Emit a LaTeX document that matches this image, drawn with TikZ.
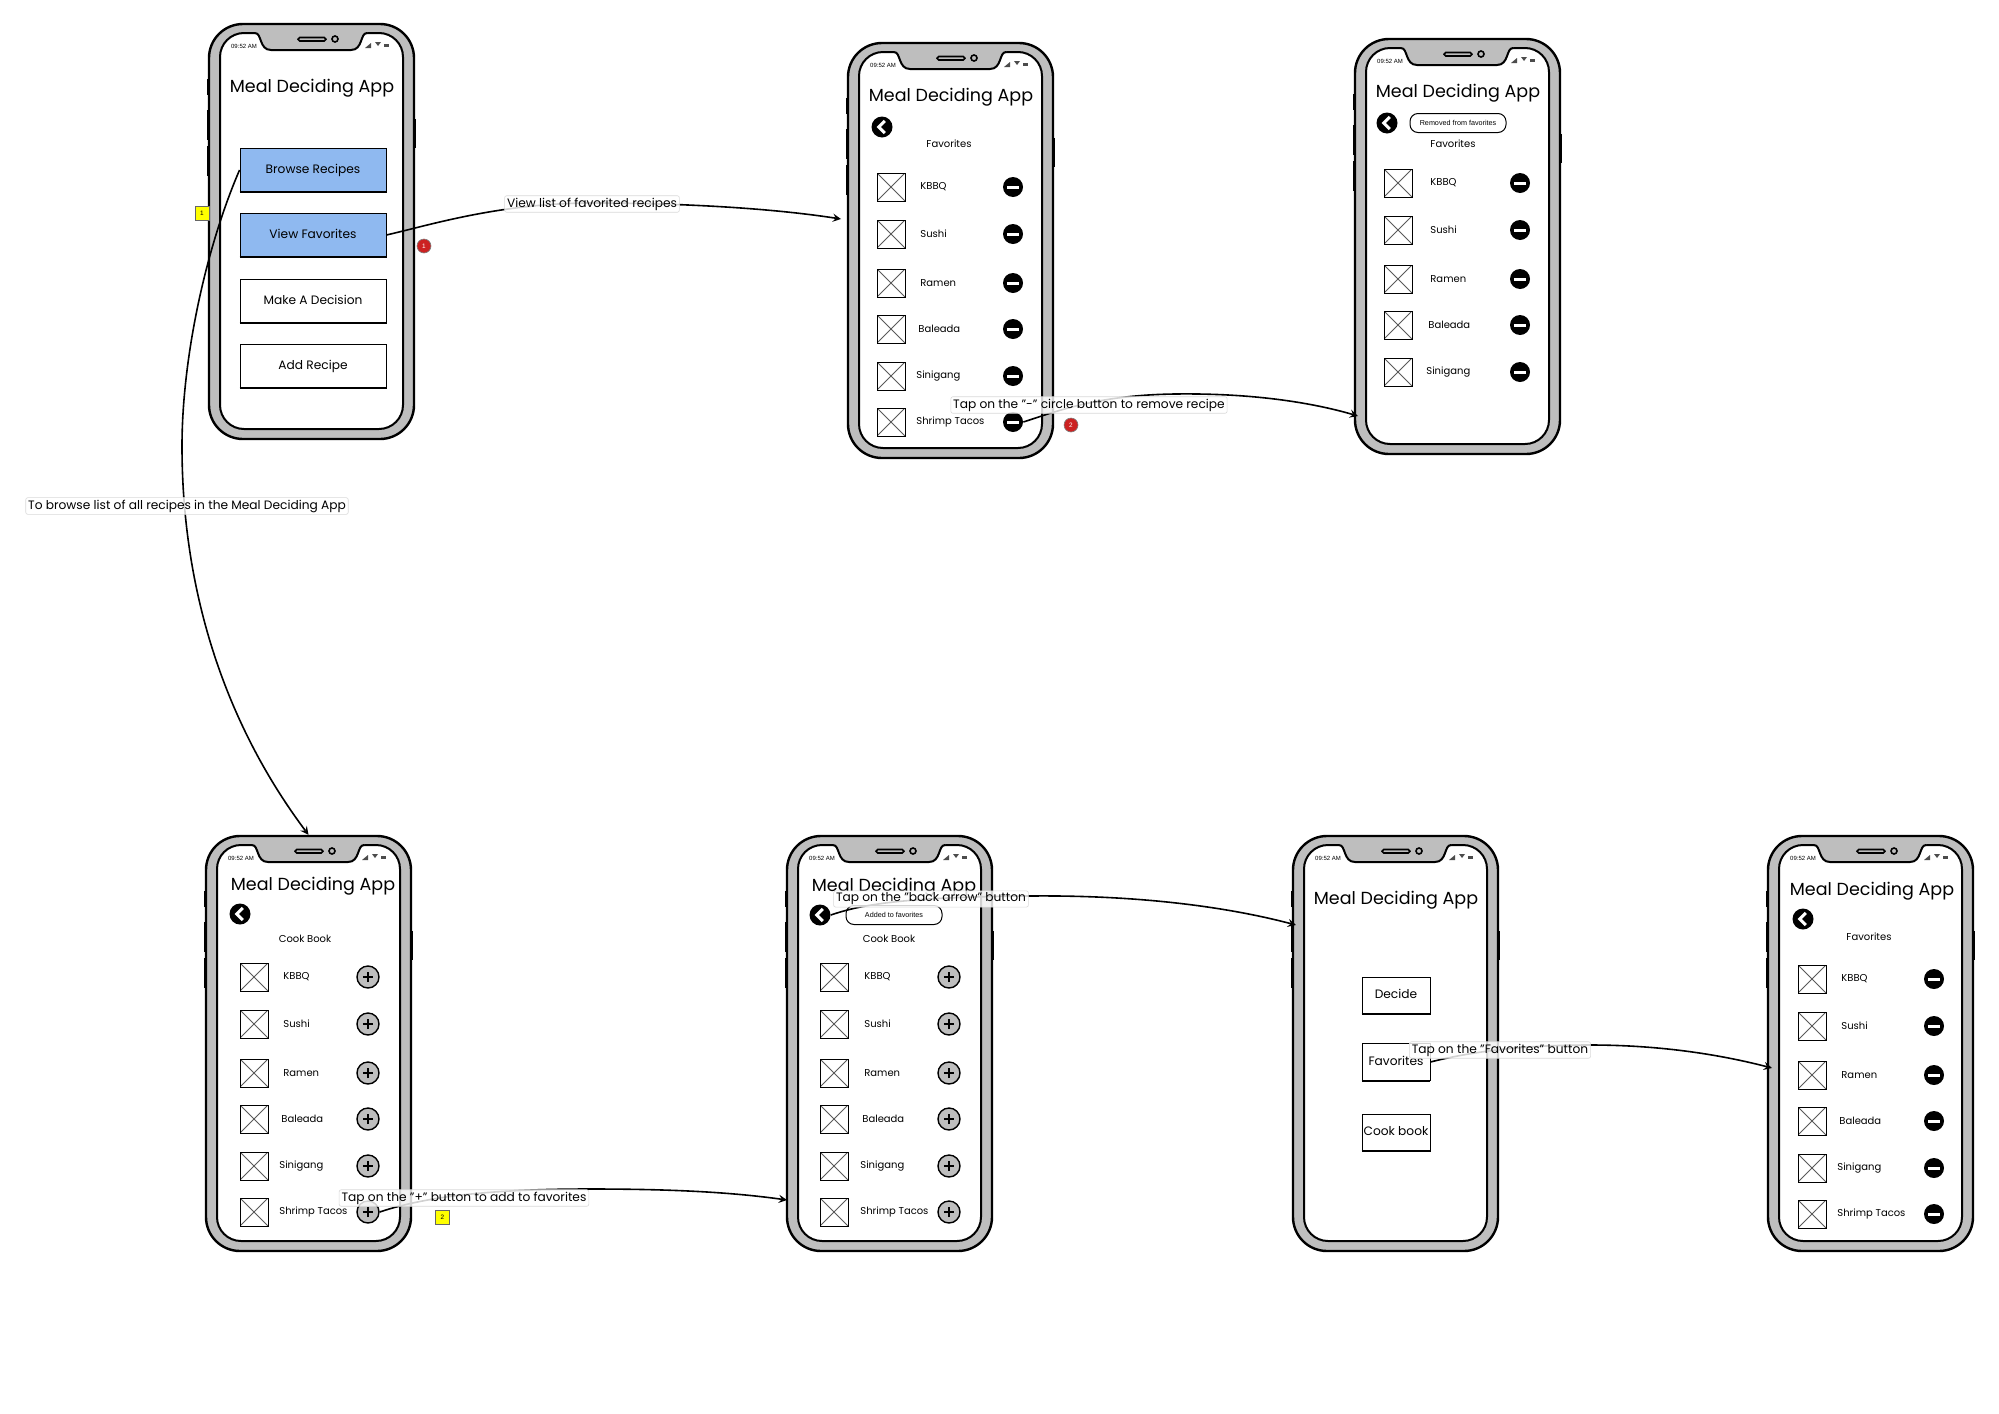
\documentclass[tikz,border=0pt]{standalone}
\usepackage{fontspec}
\setmainfont{Poppins}
\newfontfamily\smallfont{Liberation Sans}
\definecolor{shellgray}{HTML}{BEBEBE}
\definecolor{btnblue}{HTML}{8FB9F0}
\definecolor{markred}{HTML}{CC2222}
\definecolor{markyellow}{HTML}{FFFF00}
\newcommand{\fs}[1]{\fontsize{#1}{#1}\selectfont}
\tikzset{
  phoneshell/.style={draw,line width=1.2pt,fill=shellgray,rounded corners=17pt,minimum width=102.5pt,minimum height=207.5pt,inner sep=0},
  phonescreen/.style={draw,line width=1pt,fill=white,rounded corners=12pt,minimum width=91.5pt,minimum height=198pt,inner sep=0},
  sidekey/.style={line width=1.2pt},
  apptitle/.style={inner sep=0,font=\fs{8.75}},
  heading/.style={inner sep=0,font=\fs{5}},
  itemtext/.style={inner sep=0,anchor=west,font=\fs{5}},
  menubtn/.style={draw,line width=.45pt,minimum width=73pt,minimum height=22pt,inner sep=0,font=\fs{6.1},text height=1.1ex,text depth=.55ex,
    append after command={(\tikzlastnode.south west) edge[line width=1pt] (\tikzlastnode.south east)}},
  smallbtn/.style={menubtn,minimum width=34pt,minimum height=18.5pt},
  imgbox/.style={draw,line width=.5pt,minimum size=14pt,inner sep=0,path picture={
    \draw[black!65,line width=.4pt] (path picture bounding box.north west) -- (path picture bounding box.south east)
      (path picture bounding box.north east) -- (path picture bounding box.south west);}},
  minusbtn/.style={circle,fill=black,minimum size=10pt,inner sep=0,path picture={
    \draw[white,line width=1.5pt] ([xshift=-3pt]path picture bounding box.center) -- ([xshift=3pt]path picture bounding box.center);}},
  plusbtn/.style={circle,draw,line width=.7pt,fill=shellgray,minimum size=11pt,inner sep=0,path picture={
    \draw[line width=1.3pt] ([xshift=-2.6pt]path picture bounding box.center) -- ([xshift=2.6pt]path picture bounding box.center)
      ([yshift=-2.6pt]path picture bounding box.center) -- ([yshift=2.6pt]path picture bounding box.center);}},
  backbtn/.style={circle,fill=black,minimum size=10.5pt,inner sep=0,path picture={
    \draw[white,line width=1.5pt] ([xshift=1.4pt,yshift=3pt]path picture bounding box.center) -- ([xshift=-1.6pt]path picture bounding box.center)
      -- ([xshift=1.4pt,yshift=-3pt]path picture bounding box.center);}},
  toast/.style={draw,line width=.5pt,fill=white,rounded corners=4pt,minimum width=48pt,minimum height=9.5pt,inner sep=0,font=\smallfont\fs{3.6}},
  tag/.style={draw=black!15,line width=.3pt,fill=white,fill opacity=.82,text opacity=1,rounded corners=1pt,inner xsep=1.2pt,inner ysep=1pt,font=\fs{6.1}},
  conn/.style={draw,line width=.8pt,->,>=stealth},
  yellowmark/.style={draw=black!60,line width=.3pt,fill=markyellow,minimum size=7pt,inner sep=0,font=\smallfont\fs{3.2}},
  redmark/.style={circle,draw=black!50,line width=.3pt,fill=markred,text=white,minimum size=7pt,inner sep=0,font=\smallfont\fs{3.2}}
}
% outer case, notch and status bar of one phone
\newcommand{\phonebody}[1]{
  \foreach \ya/\yb in {55/71,86/116,122/152} \draw[sidekey] (-1,\ya) -- (-1,\yb);
  \draw[sidekey] (206,95) -- (206,124);
  \node[phoneshell] (#1) at (102.5,207.5) {};
  \node[phonescreen] (#1-screen) at (102.5,207) {};
  \fill[shellgray] (46,7) -- (158,7) -- (158,9) .. controls (151,9) and (154,26) .. (142,26) -- (62,26) .. controls (50,26) and (53,9) .. (46,9) -- cycle;
  \draw[line width=1pt] (46,9) .. controls (53,9) and (50,26) .. (62,26) -- (142,26) .. controls (154,26) and (151,9) .. (158,9);
  \draw[line width=.8pt,rounded corners=.85pt] (89,13.5) rectangle (117,17);
  \draw[line width=.8pt] (126,15) circle (3);
  \node[inner sep=0,font=\smallfont\fs{3}] (#1-time) at (35,22) {09:52 AM};
  \fill[black!70] (156,24) -- (162,24) -- (162,19) -- cycle;
  \fill[black!70] (166,18) -- (172,18) -- (169,22) -- cycle;
  \fill[black!70] (175,20) rectangle (180,22.5);
}
% list of recipes: prefix, image x, button x, label shift, row shift, button style, rows
\newcommand{\recipes}[7]{
  \foreach \rownum/\rowy/\labx/\item in {1/144/72/KBBQ,2/191/72/Sushi,3/240/72/Ramen,4/286/70/Baleada,5/333/68/Sinigang,6/379/68/Shrimp Tacos}{
    \ifnum\rownum>#7\relax\else
      \node[imgbox] (#1-img\rownum) at (#2,{\rowy+#5}) {};
      \node[itemtext] (#1-txt\rownum) at ({\labx+#4},{\rowy+#5}) {\item};
      \node[#6] (#1-btn\rownum) at (#3,{\rowy+#5}) {};
    \fi
  }
}
\begin{document}
\begin{tikzpicture}[x=.5pt,y=-.5pt]
\useasboundingbox (0,0) rectangle (1999,1414);

% main menu
\begin{scope}[shift={(209,24)}]
\phonebody{menu}
\node[apptitle] (menu-title) at (103,64) {Meal Deciding App};
\node[menubtn,fill=btnblue] (browse) at (104,146) {Browse Recipes};
\node[menubtn,fill=btnblue] (viewfav) at (104,211) {View Favorites};
\node[menubtn] (decision) at (104,277) {Make A Decision};
\node[menubtn] (addrecipe) at (104,342) {Add Recipe};
\end{scope}

% favorites
\begin{scope}[shift={(848,43)}]
\phonebody{fav}
\node[apptitle] (fav-title) at (103,54) {Meal Deciding App};
\node[backbtn] (fav-back) at (34,84) {};
\node[heading] (fav-head) at (101,101) {Favorites};
\recipes{fav}{43}{165}{0}{0}{minusbtn}{6}
\end{scope}

% favorites after removing
\begin{scope}[shift={(1355,39)}]
\phonebody{rem}
\node[apptitle] (rem-title) at (103,54) {Meal Deciding App};
\node[backbtn] (rem-back) at (32,84) {};
\node[toast] (rem-toast) at (103,84) {Removed from favorites};
\node[heading] (rem-head) at (98,105) {Favorites};
\recipes{rem}{43}{165}{3}{0}{minusbtn}{5}
\end{scope}

% cook book
\begin{scope}[shift={(206,836)}]
\phonebody{book}
\node[apptitle] (book-title) at (107,50) {Meal Deciding App};
\node[backbtn] (book-back) at (34,78) {};
\node[heading] (book-head) at (99,103) {Cook Book};
\recipes{book}{48}{162}{5}{-3}{plusbtn}{6}
\end{scope}

% cook book after adding
\begin{scope}[shift={(787,836)}]
\phonebody{added}
\node[apptitle] (added-title) at (107,51) {Meal Deciding App};
\node[backbtn] (added-back) at (33,79) {};
\node[toast] (added-toast) at (107,79) {Added to favorites};
\node[heading] (added-head) at (102,103) {Cook Book};
\recipes{added}{47}{162}{5}{-3}{plusbtn}{6}
\end{scope}

% start screen
\begin{scope}[shift={(1293,836)}]
\phonebody{start}
\node[apptitle] (start-title) at (103,64) {Meal Deciding App};
\node[smallbtn] (decide) at (103,159.5) {Decide};
\node[smallbtn] (favbtn) at (103,226) {Favorites};
\node[smallbtn] (cookbtn) at (103,296.5) {Cook book};
\end{scope}

% favorites again
\begin{scope}[shift={(1768,836)}]
\phonebody{last}
\node[apptitle] (last-title) at (104,55) {Meal Deciding App};
\node[backbtn] (last-back) at (35,83) {};
\node[heading] (last-head) at (101,101) {Favorites};
\recipes{last}{44}{166}{1}{-1}{minusbtn}{6}
\end{scope}

\node[yellowmark] (mark1) at (202,213) {1};
\node[yellowmark] (mark2) at (442.5,1217.5) {2};
\node[redmark] (dot1) at (424,246) {1};
\node[redmark] (dot2) at (1071,425) {2};

\coordinate (favin) at (841,219);
\coordinate (remin) at (1358,416);
\coordinate (addedin) at (787,1200);
\coordinate (startin) at (1296,925);
\coordinate (lastin) at (1772,1068);

\path[conn] (browse.west) .. controls (205,250) and (182,360) .. (182,446) .. controls (182,600) and (230,730) .. (book.north);
\path[conn] (viewfav.east) .. controls (430,225) and (500,203) .. (592,203) .. controls (680,203) and (770,208) .. (favin);
\path[conn] (fav-btn6.east) .. controls (1060,410) and (1100,395) .. (1175,394) .. controls (1250,393) and (1310,402) .. (remin);
\path[conn] (book-btn6.east) .. controls (430,1195) and (500,1189) .. (590,1189) .. controls (670,1189) and (730,1192) .. (addedin);
\path[conn] (added-back.east) .. controls (860,905) and (900,897) .. (1030,896) .. controls (1130,895) and (1220,905) .. (startin);
\path[conn] (favbtn.east) .. controls (1470,1052) and (1520,1045) .. (1590,1045) .. controls (1650,1045) and (1710,1052) .. (lastin);

\node[tag] (tagbrowse) at (187,506) {To browse list of all recipes in the Meal Deciding App};
\node[tag] (tagview) at (592,204) {View list of favorited recipes};
\node[tag] (tagremove) at (1089,405) {Tap on the "-" circle button to remove recipe};
\node[tag] (tagadd) at (464,1198) {Tap on the "+" button to add to favorites};
\node[tag] (tagback) at (931,899) {Tap on the "back arrow" button};
\node[tag] (tagfav) at (1500,1050) {Tap on the "Favorites" button};
\end{tikzpicture}
\end{document}
